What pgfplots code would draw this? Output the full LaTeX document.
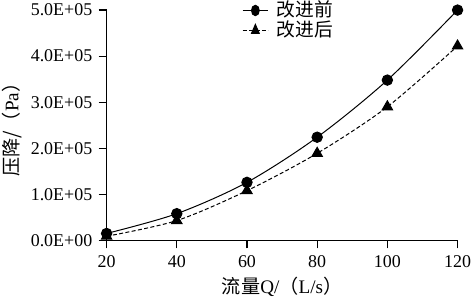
\documentclass[border=0pt]{standalone}
\usepackage{pgfplots}
\pgfplotsset{compat=1.18}
\usepackage{fontspec}
\setmainfont{Liberation Serif}
\newfontfamily\cjk{Noto Sans CJK SC}
\begin{document}
\begin{tikzpicture}
\begin{axis}[
  scale only axis,
  width=176pt, height=115.5pt,
  xmin=20, xmax=120, ymin=0, ymax=500000,
  axis lines*=left,
  axis line style={line width=0.6pt},
  xtick={20,40,60,80,100,120},
  ytick={0,100000,200000,300000,400000,500000},
  yticklabels={0.0E+00,1.0E+05,2.0E+05,3.0E+05,4.0E+05,5.0E+05},
  scaled y ticks=false,
  /pgf/number format/assume math mode=true,
  tick align=outside,
  tick style={black, line width=0.6pt},
  major tick length=4pt,
  ticklabel style={font=\fontsize{9}{10}\selectfont},
  yticklabel style={inner xsep=3pt, inner ysep=2pt},
  xticklabel style={inner xsep=0.5pt},
  xlabel={{\cjk 流量}Q/{\cjk （}L/s{\cjk ）}},
  ylabel={{\cjk 压降/（}Pa{\cjk ）}},
  label style={font=\fontsize{9.6}{10}\selectfont},
  xlabel style={yshift=0pt, inner sep=1.5pt},
  ylabel style={inner sep=1pt, yshift=0.3pt},
  legend style={draw=none, fill=none, at={(0.385,1.0415)}, anchor=north west,
    font=\fontsize{9.4}{9.4}\selectfont, row sep=0.4pt, inner sep=0pt,
    nodes={inner ysep=0pt, text height=7.8pt, text depth=1.8pt}},
  legend image post style={xscale=0.75},
  legend cell align=left,
  clip=false,
]
\addplot[black, line width=0.5pt, smooth, mark=*, mark size=2.6pt,
  mark options={solid}] coordinates {
  (20,15000) (40,58000) (60,126000) (80,224000) (100,348000) (120,500000)};
\addlegendentry{\hspace{2pt}\cjk 改进前}
\addplot[black, line width=0.5pt, dash pattern=on 2pt off 1.2pt, smooth, mark=triangle*, mark size=3pt,
  mark options={solid}] coordinates {
  (20,9000) (40,43000) (60,108000) (80,189000) (100,290000) (120,422000)};
\addlegendentry{\hspace{2pt}\cjk 改进后}
\end{axis}
\end{tikzpicture}
\end{document}
